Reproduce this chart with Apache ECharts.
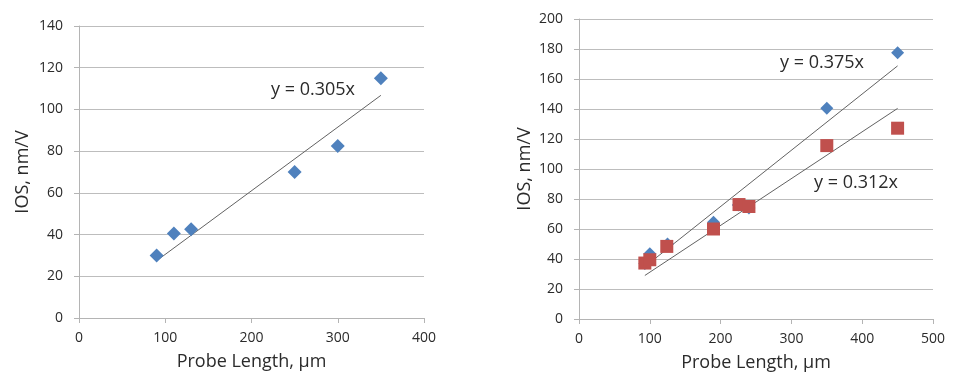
<!DOCTYPE html>
<html><head><meta charset="utf-8">
<script src="https://cdn.jsdelivr.net/npm/echarts@6/dist/echarts.min.js"></script>
<style>html,body{margin:0;padding:0;background:#fff}#c{width:957px;height:389px}</style>
</head><body><div id="c"></div>
<script>
// Left chart data
const leftX = [90, 110, 130, 250, 300, 350];
const leftY = [30, 40.5, 42.5, 70, 82.5, 115];
const leftSlope = 0.305;
const leftTrendX = [90, 350];
const leftLabel = 'y = 0.305x';

// Right chart data
const rightBlueX = [93, 100, 125, 190, 225, 240, 350, 450];
const rightBlueY = [37, 43.5, 50, 64.5, 76, 74, 140.5, 177.5];
const rightRedX = [93, 100, 124, 190, 226, 240, 350, 450];
const rightRedY = [37.3, 39.5, 48.4, 60, 76.3, 75, 115.6, 127.2];
const rightBlueSlope = 0.375;
const rightRedSlope = 0.312;
const rightTrendX = [93, 450];
const rightBlueLabel = 'y = 0.375x';
const rightRedLabel = 'y = 0.312x';

// Axis ticks
const leftXMax = 400, leftXStep = 100, leftYMax = 140, leftYStep = 20;
const rightXMax = 500, rightXStep = 100, rightYMax = 200, rightYStep = 20;
const xName = 'Probe Length, µm';
const yName = 'IOS, nm/V';

const FONT = 'Open Sans';
const TXT = '#2b2b2b';
const BLUE = '#4F81BD', RED = '#C0504D';
const AXIS = '#b4b4b4', GRID = '#bdbdbd', TREND = '#626262';

function zip(a, b) { return a.map((v, i) => [v, b[i]]); }
function trend(xs, k) { return xs.map(x => [x, k * x]); }

function xAxis(gi, max, step) {
  return {
    type: 'value', gridIndex: gi, min: 0, max: max, interval: step,
    name: xName, nameLocation: 'middle', nameGap: 35,
    nameTextStyle: { fontFamily: FONT, fontSize: 18, color: TXT },
    axisLine: { show: true, lineStyle: { color: AXIS, width: 1 } },
    axisTick: { show: true, length: 5, inside: false, lineStyle: { color: AXIS } },
    axisLabel: { fontFamily: FONT, fontSize: 14, color: TXT, margin: 13 },
    splitLine: { show: false }
  };
}
function yAxis(gi, max, step, gap) {
  return {
    type: 'value', gridIndex: gi, min: 0, max: max, interval: step,
    name: yName, nameLocation: 'middle', nameGap: gap,
    nameTextStyle: { fontFamily: FONT, fontSize: 18, color: TXT },
    axisLine: { show: true, lineStyle: { color: AXIS, width: 1 } },
    axisTick: { show: true, length: 5, inside: false, lineStyle: { color: AXIS } },
    axisLabel: { fontFamily: FONT, fontSize: 14, color: TXT, margin: 16 },
    splitLine: { show: true, lineStyle: { color: GRID, width: 1 } }
  };
}

const chart = echarts.init(document.getElementById('c'), null, { renderer: 'canvas' });
chart.setOption({
  animation: false,
  backgroundColor: '#fff',
  grid: [
    { left: 79, top: 26, width: 345, height: 292 },
    { left: 579, top: 19, width: 354, height: 300 }
  ],
  xAxis: [xAxis(0, leftXMax, leftXStep), xAxis(1, rightXMax, rightXStep)],
  yAxis: [yAxis(0, leftYMax, leftYStep, 47), yAxis(1, rightYMax, rightYStep, 45)],
  series: [
    { type: 'line', xAxisIndex: 0, yAxisIndex: 0, data: trend(leftTrendX, leftSlope), symbol: 'none',
      lineStyle: { color: TREND, width: 1 }, z: 2 },
    { type: 'scatter', xAxisIndex: 0, yAxisIndex: 0, data: zip(leftX, leftY), symbol: 'diamond',
      symbolSize: 14, itemStyle: { color: BLUE, opacity: 1 }, z: 3 },
    { type: 'line', xAxisIndex: 1, yAxisIndex: 1, data: trend(rightTrendX, rightBlueSlope), symbol: 'none',
      lineStyle: { color: TREND, width: 1 }, z: 2 },
    { type: 'line', xAxisIndex: 1, yAxisIndex: 1, data: trend(rightTrendX, rightRedSlope), symbol: 'none',
      lineStyle: { color: TREND, width: 1 }, z: 2 },
    { type: 'scatter', xAxisIndex: 1, yAxisIndex: 1, data: zip(rightBlueX, rightBlueY), symbol: 'diamond',
      symbolSize: 13, itemStyle: { color: BLUE, opacity: 1 }, z: 3 },
    { type: 'scatter', xAxisIndex: 1, yAxisIndex: 1, data: zip(rightRedX, rightRedY), symbol: 'rect',
      symbolSize: 13, itemStyle: { color: RED, opacity: 1 }, z: 4 }
  ],
  graphic: [
    { type: 'text', x: 313, y: 90, style: { text: leftLabel, fontFamily: FONT, fontSize: 18, fill: TXT, align: 'center', verticalAlign: 'middle' } },
    { type: 'text', x: 822, y: 63, style: { text: rightBlueLabel, fontFamily: FONT, fontSize: 18, fill: TXT, align: 'center', verticalAlign: 'middle' } },
    { type: 'text', x: 856, y: 183, style: { text: rightRedLabel, fontFamily: FONT, fontSize: 18, fill: TXT, align: 'center', verticalAlign: 'middle' } }
  ]
});
</script></body></html>
